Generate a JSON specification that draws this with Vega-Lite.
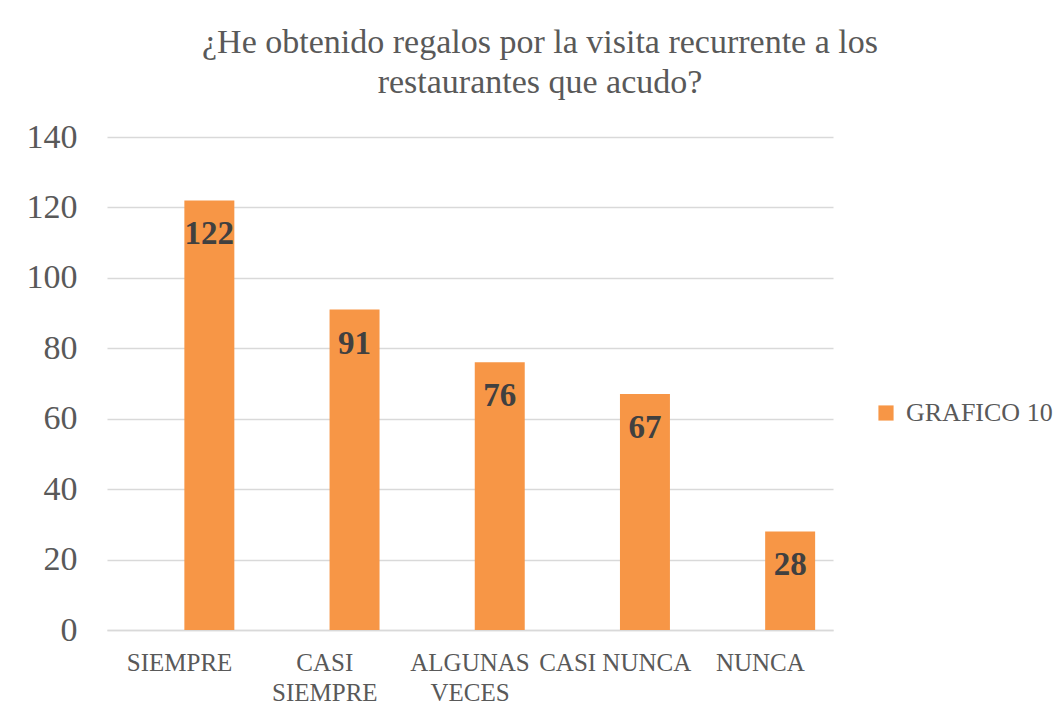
{
  "$schema": "https://vega.github.io/schema/vega-lite/v6.json",
  "autosize": {"type": "none"},
  "width": 726,
  "height": 493,
  "padding": {"left": 107, "top": 137, "right": 226, "bottom": 90},
  "background": "white",
  "config": {
    "font": "Liberation Serif",
    "view": {"stroke": null}
  },
  "title": {
    "text": ["¿He obtenido regalos por la visita recurrente a los", "restaurantes que acudo?"],
    "font": "Liberation Serif",
    "fontSize": 34,
    "fontWeight": "normal",
    "color": "#595959",
    "anchor": "middle",
    "frame": "group",
    "dx": 70,
    "offset": 20,
    "lineHeight": 40
  },
  "data": {
    "values": [
      {"categoria": "SIEMPRE", "serie": "GRAFICO 10", "valor": 122},
      {"categoria": "CASI SIEMPRE", "serie": "GRAFICO 10", "valor": 91},
      {"categoria": "ALGUNAS VECES", "serie": "GRAFICO 10", "valor": 76},
      {"categoria": "CASI NUNCA", "serie": "GRAFICO 10", "valor": 67},
      {"categoria": "NUNCA", "serie": "GRAFICO 10", "valor": 28}
    ]
  },
  "encoding": {
    "x": {
      "field": "categoria",
      "type": "nominal",
      "sort": null,
      "scale": {"paddingInner": 0.246, "paddingOuter": 0.123},
      "axis": {
        "title": null,
        "labelAngle": 0,
        "labelFont": "Liberation Serif",
        "labelFontSize": 25,
        "labelColor": "#595959",
        "labelPadding": 20,
        "labelLineHeight": 30,
        "labelBaseline": "top",
        "ticks": false,
        "domainColor": "#d9d9d9",
        "domainWidth": 1.5,
        "grid": false,
        "labelExpr": "datum.label == 'CASI SIEMPRE' ? ['CASI', 'SIEMPRE'] : datum.label == 'ALGUNAS VECES' ? ['ALGUNAS', 'VECES'] : datum.label"
      }
    },
    "xOffset": {
      "field": "serie",
      "type": "nominal",
      "scale": {"domain": ["", "GRAFICO 10"], "paddingInner": 0.16, "paddingOuter": 0}
    },
    "y": {
      "field": "valor",
      "type": "quantitative",
      "scale": {"domain": [0, 140]},
      "axis": {
        "title": null,
        "values": [0, 20, 40, 60, 80, 100, 120, 140],
        "labelFont": "Liberation Serif",
        "labelFontSize": 34,
        "labelColor": "#595959",
        "labelPadding": 30,
        "ticks": false,
        "domain": false,
        "gridColor": "#d9d9d9",
        "gridWidth": 1.5
      }
    }
  },
  "layer": [
    {
      "mark": {"type": "bar"},
      "encoding": {
        "color": {
          "field": "serie",
          "type": "nominal",
          "scale": {"domain": ["GRAFICO 10"], "range": ["#f79646"]},
          "legend": {
            "title": null,
            "orient": "none",
            "legendX": 766,
            "legendY": 263,
            "symbolType": "square",
            "symbolSize": 230,
            "symbolStrokeWidth": 0,
            "labelFont": "Liberation Serif",
            "labelFontSize": 26,
            "labelColor": "#595959",
            "labelOffset": 7
          }
        }
      }
    },
    {
      "mark": {
        "type": "text",
        "baseline": "top",
        "dy": 18,
        "font": "Liberation Serif",
        "fontSize": 33,
        "fontWeight": "bold",
        "color": "#404040"
      },
      "encoding": {
        "text": {"field": "valor", "type": "quantitative"}
      }
    }
  ]
}
